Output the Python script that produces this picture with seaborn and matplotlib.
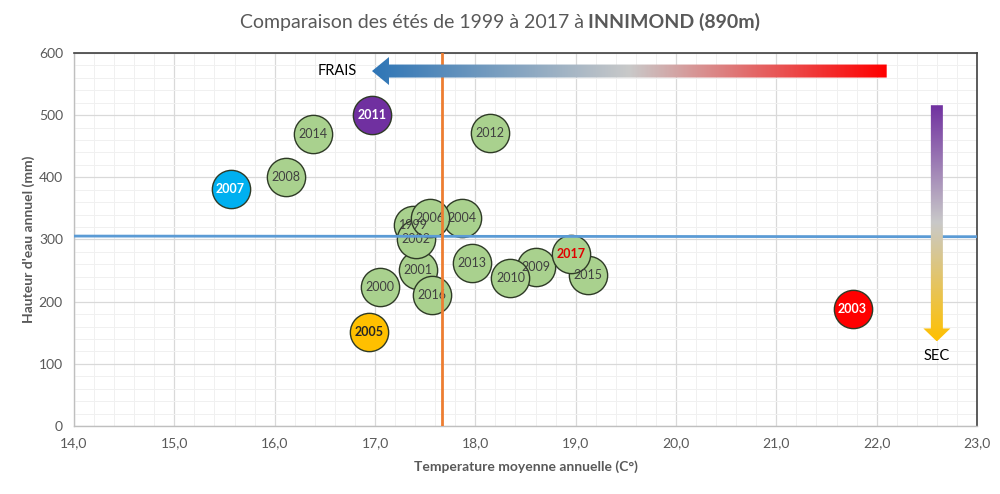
import numpy as np
import pandas as pd
import matplotlib
matplotlib.use("Agg")
import matplotlib.pyplot as plt
import seaborn as sns
from matplotlib.colors import LinearSegmentedColormap
from matplotlib.patches import Polygon
from matplotlib.ticker import MultipleLocator, FuncFormatter

# ---------------- data ----------------
years = [1999, 2000, 2001, 2002, 2003, 2004, 2005, 2006, 2007, 2008,
         2009, 2010, 2011, 2012, 2013, 2014, 2015, 2016, 2017]
temperature = [17.38, 17.05, 17.43, 17.41, 21.76, 17.87, 16.94, 17.55, 15.56, 16.11,
               18.60, 18.35, 16.97, 18.15, 17.97, 16.38, 19.12, 17.57, 18.95]
rainfall = [323, 224, 251, 301, 188, 335, 151, 335, 381, 400,
            256, 238, 500, 471, 262, 470, 243, 211, 277]
category = ["normal", "normal", "normal", "normal", "hot", "normal", "dry", "normal", "cool", "normal",
            "normal", "normal", "wet", "normal", "normal", "normal", "normal", "normal", "current"]
mean_temperature = 17.67
mean_rainfall = [305.5, 304.5]
x_ticks = [14, 15, 16, 17, 18, 19, 20, 21, 22, 23]
y_ticks = [0, 100, 200, 300, 400, 500, 600]

title_regular = "Comparaison des étés de 1999 à 2017 à "
title_bold = "INNIMOND (890m)"
x_label = "Temperature moyenne annuelle (C°)"
y_label = "Hauteur d'eau annuel (mm)"

fill_colors = {"normal": "#A9D18E", "hot": "#FF0000", "dry": "#FFC000",
               "cool": "#00B0F0", "wet": "#7030A0", "current": "#A9D18E"}
label_styles = {"normal": ("#404040", "normal"), "hot": ("white", "bold"),
                "dry": ("#262626", "bold"), "cool": ("white", "bold"),
                "wet": ("white", "bold"), "current": ("#E00000", "bold")}

df = pd.DataFrame({"year": years, "temp": temperature, "rain": rainfall, "cat": category})

# ---------------- figure ----------------
sns.set_theme(style="white")
plt.rcParams["font.family"] = ["Lato", "DejaVu Sans"]

fig = plt.figure(figsize=(10, 4.94), dpi=100)
ax = fig.add_axes([0.074, 0.1377, 0.903, 0.755])

ax.set_xlim(14, 23)
ax.set_ylim(0, 600)

# grid
ax.xaxis.set_major_locator(MultipleLocator(1))
ax.yaxis.set_major_locator(MultipleLocator(100))
ax.xaxis.set_minor_locator(MultipleLocator(0.2))
ax.yaxis.set_minor_locator(MultipleLocator(20))
ax.grid(which="major", color="#D9D9D9", linewidth=0.9, zorder=0)
ax.grid(which="minor", color="#F0F0F0", linewidth=0.7, zorder=0)
ax.set_axisbelow(True)
ax.set_xticks(x_ticks)
ax.set_yticks(y_ticks)
ax.xaxis.set_major_formatter(FuncFormatter(lambda v, p: f"{v:.1f}".replace(".", ",")))
ax.tick_params(axis="both", which="both", length=0, labelsize=10, labelcolor="#595959", pad=8)

for side in ["top", "right"]:
    ax.spines[side].set_color("#404040")
    ax.spines[side].set_linewidth(1.2)
for side in ["left", "bottom"]:
    ax.spines[side].set_color("#BFBFBF")
    ax.spines[side].set_linewidth(1.0)

# points (year order controls overlap), labels above all markers
for i, row in df.iterrows():
    sns.scatterplot(data=df.iloc[[i]], x="temp", y="rain", ax=ax, s=760,
                    color=fill_colors[row["cat"]], edgecolor="#2E3A26", linewidth=1.0,
                    legend=False, zorder=5 + i)
    col, wt = label_styles[row["cat"]]
    ax.text(row["temp"], row["rain"], str(row["year"]), ha="center", va="center",
            fontsize=9, color=col, fontweight=wt, zorder=100 + i)

# reference lines (drawn over the bubbles, as in the original)
ax.plot([14, 23], mean_rainfall, color="#5B9BD5", linewidth=2, zorder=200)
ax.axvline(mean_temperature, color="#ED7D31", linewidth=2, zorder=200)

ax.set_xlabel(x_label, fontsize=10, fontweight="bold", color="#595959", labelpad=8)
ax.set_ylabel(y_label, fontsize=10, fontweight="bold", color="#595959", labelpad=3)


# ---------------- gradient arrows ----------------
def gradient_arrow(ax, verts, colors, horizontal, extent, z):
    poly = Polygon(verts, closed=True, facecolor="none", edgecolor="none", zorder=z)
    ax.add_patch(poly)
    cmap = LinearSegmentedColormap.from_list("g", colors)
    if horizontal:
        grad = np.linspace(0, 1, 256).reshape(1, -1)
    else:
        grad = np.linspace(0, 1, 256).reshape(-1, 1)
    im = ax.imshow(grad, cmap=cmap, extent=extent, aspect="auto", zorder=z,
                   origin="lower", interpolation="bilinear")
    im.set_clip_path(poly)


px_x = 100.3   # pixels per degree
px_y = 0.6217  # pixels per mm

# FRAIS arrow (horizontal, pointing left)
tip_x, end_x, cy = 16.97, 22.10, 571
sh, hh, hl = 6.5 / px_y, 14 / px_y, 17 / px_x
verts = [(tip_x, cy), (tip_x + hl, cy + hh), (tip_x + hl, cy + sh), (end_x, cy + sh),
         (end_x, cy - sh), (tip_x + hl, cy - sh), (tip_x + hl, cy - hh)]
gradient_arrow(ax, verts, ["#2E75B6", "#C9C9C9", "#FF0000"], True,
               [tip_x, end_x, cy - hh, cy + hh], 300)
ax.text(16.62, 571, "FRAIS", ha="center", va="center", fontsize=10.5, color="black", zorder=301)

# SEC arrow (vertical, pointing down)
cx, top_y, tip_y = 22.60, 516, 136
sw, hw, hlen = 6 / px_x, 13.5 / px_x, 13 / px_y
verts = [(cx, tip_y), (cx - hw, tip_y + hlen), (cx - sw, tip_y + hlen), (cx - sw, top_y),
         (cx + sw, top_y), (cx + sw, tip_y + hlen), (cx + hw, tip_y + hlen)]
gradient_arrow(ax, verts, ["#FFC000", "#C9C9C9", "#7030A0"], False,
               [cx - hw, cx + hw, tip_y, top_y], 300)
ax.text(cx, 113, "SEC", ha="center", va="center", fontsize=10.5, color="black", zorder=301)

ax.set_xlim(14, 23)
ax.set_ylim(0, 600)

# ---------------- title (mixed weight, centred) ----------------
t1 = fig.text(0.5, 0.955, title_regular, ha="left", va="center", fontsize=14, color="#595959")
t2 = fig.text(0.5, 0.955, title_bold, ha="left", va="center", fontsize=14, color="#595959",
              fontweight="bold")
fig.canvas.draw()
r = fig.canvas.get_renderer()
w1 = t1.get_window_extent(r).width / fig.bbox.width
w2 = t2.get_window_extent(r).width / fig.bbox.width
start = 0.5 - (w1 + w2) / 2
t1.set_x(start)
t2.set_x(start + w1)

fig.savefig("out.png", dpi=100)
